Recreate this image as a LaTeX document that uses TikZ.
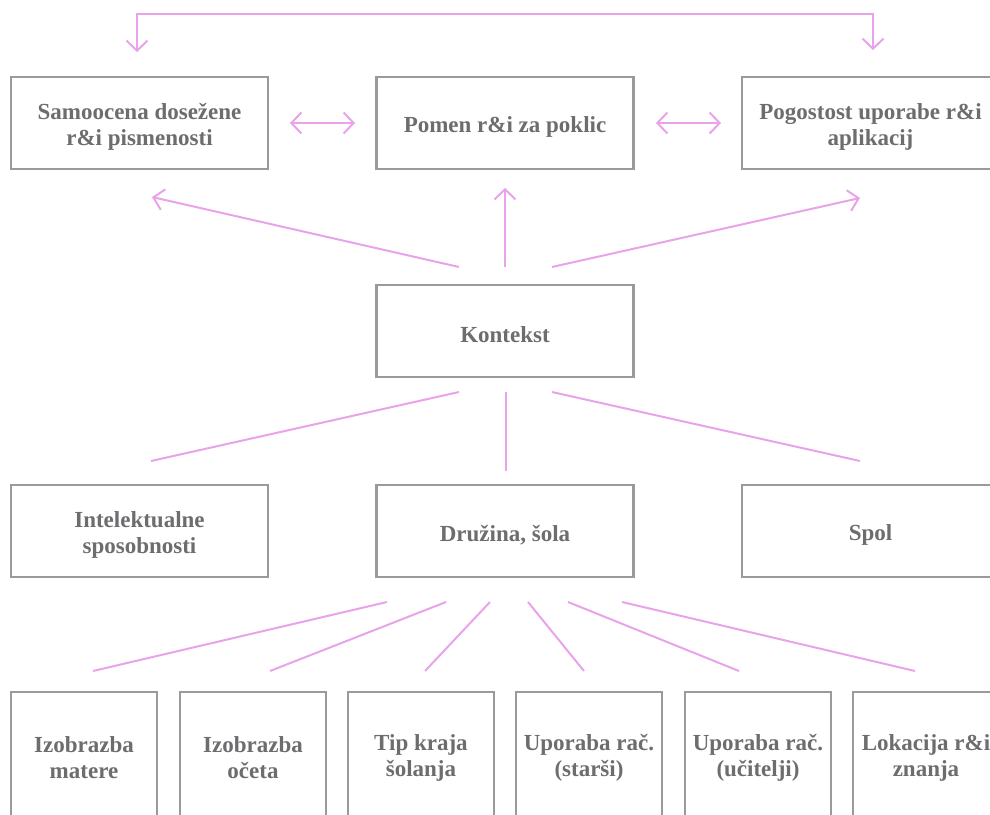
\documentclass[tikz,border=0pt]{standalone}
\usepackage{fontspec}
\setmainfont{Liberation Serif}
\usetikzlibrary{arrows.meta}
\definecolor{boxgray}{HTML}{9A9A9C}
\definecolor{txtgray}{HTML}{6D6D70}
\definecolor{pinkline}{HTML}{E8A3EA}
\tikzset{
  txt/.style={text=txtgray, font=\fontsize{23}{26}\selectfont\bfseries,
    align=center, inner sep=0pt, yshift=-4pt},
  box/.style={draw=boxgray, line width=2.2pt, fill=white, inner sep=0pt},
  wide/.style={box, minimum width=257pt, minimum height=92pt},
  small/.style={box, minimum width=146pt, minimum height=124pt},
  conn/.style={draw=pinkline, line width=2pt},
  arr/.style={conn, -{Straight Barb[length=10pt,width=21pt,line width=2pt]}},
  darr/.style={conn, {Straight Barb[length=10pt,width=21pt,line width=2pt]}-{Straight Barb[length=10pt,width=21pt,line width=2pt]}},
}
\begin{document}
\begin{tikzpicture}[x=1pt,y=-1pt]
\useasboundingbox (0,0) rectangle (990,814);
\clip (0,0) rectangle (990,814);
% top row
\node[wide, label={[txt]center:{Samoocena dosežene\\r\&i pismenosti}}] (samo) at (139.5,123) {};
\node[wide, label={[txt]center:{Pomen r\&i za poklic}}] (pomen) at (505,123) {};
\node[wide, label={[txt]center:{Pogostost uporabe r\&i\\aplikacij}}] (pogo) at (870.5,123) {};
% middle
\node[wide, label={[txt]center:{Kontekst}}] (kont) at (505,331) {};
% third row
\node[wide, label={[txt]center:{Intelektualne\\sposobnosti}}] (intel) at (139.5,531) {};
\node[wide, label={[txt]center:{Družina, šola}}] (druz) at (505,531) {};
\node[wide, label={[txt]center:{Spol}}] (spol) at (870.5,531) {};
% bottom row
\node[small, label={[txt]center:{Izobrazba\\matere}}] (b1) at (84,754) {};
\node[small, label={[txt]center:{Izobrazba\\očeta}}] (b2) at (253,754) {};
\node[small, label={[txt]center:{Tip kraja\\šolanja}}] (b3) at (421,754) {};
\node[small, label={[txt]center:{Uporaba rač.\\(starši)}}] (b4) at (589,754) {};
\node[small, label={[txt]center:{Uporaba rač.\\(učitelji)}}] (b5) at (758,754) {};
\node[small, label={[txt]center:{Lokacija r\&i\\znanja}}] (b6) at (926,754) {};
% coordinates
\coordinate (tl) at (137,52);
\coordinate (tr) at (873,50);
\coordinate (topy) at (0,14);
\coordinate (d1a) at (290,123); \coordinate (d1b) at (355,123);
\coordinate (d2a) at (656,123); \coordinate (d2b) at (721,123);
\coordinate (ku1) at (459,267); \coordinate (ke1) at (152,197);
\coordinate (ku2) at (505,267); \coordinate (ke2) at (505,188);
\coordinate (ku3) at (552,267); \coordinate (ke3) at (860,198);
\coordinate (kd1) at (459,392); \coordinate (ie1) at (151,461);
\coordinate (kd2) at (506,392); \coordinate (ie2) at (506,471);
\coordinate (kd3) at (552,392); \coordinate (ie3) at (860,461);
\coordinate (s1) at (387,602); \coordinate (e1) at (93,671);
\coordinate (s2) at (446,602); \coordinate (e2) at (270,671);
\coordinate (s3) at (490,602); \coordinate (e3) at (425,671);
\coordinate (s4) at (528,602); \coordinate (e4) at (584,671);
\coordinate (s5) at (568,602); \coordinate (e5) at (739,671);
\coordinate (s6) at (622,602); \coordinate (e6) at (915,671);
% connectors
\draw[darr] (tl) -- (tl |- topy) -- (tr |- topy) -- (tr);
\draw[darr] (d1a) -- (d1b);
\draw[darr] (d2a) -- (d2b);
\draw[arr] (ku1) -- (ke1);
\draw[arr] (ku2) -- (ke2);
\draw[arr] (ku3) -- (ke3);
\draw[conn] (kd1) -- (ie1);
\draw[conn] (kd2) -- (ie2);
\draw[conn] (kd3) -- (ie3);
\foreach \i in {1,...,6} { \draw[conn] (s\i) -- (e\i); }
\end{tikzpicture}
\end{document}
